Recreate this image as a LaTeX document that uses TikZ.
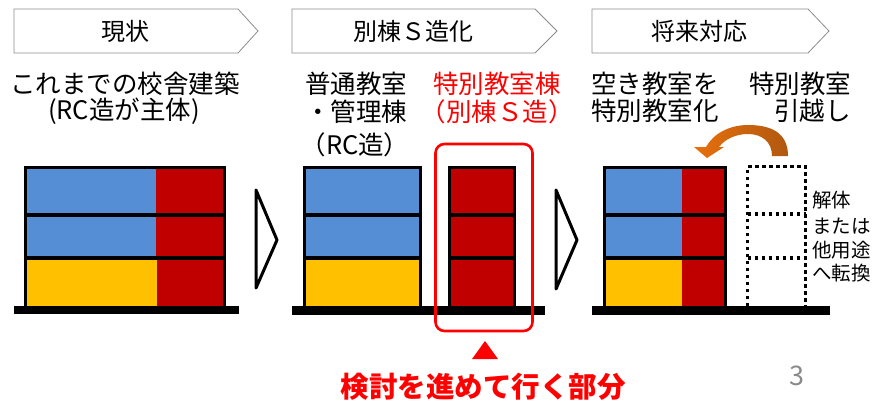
\documentclass[tikz,border=0pt]{standalone}
\usepackage{fontspec}
\setmainfont{Noto Sans CJK JP}
\definecolor{bl}{HTML}{558ED5}
\definecolor{rd}{HTML}{C00000}
\definecolor{yl}{HTML}{FFC000}
\definecolor{hot}{HTML}{FF0000}
\definecolor{hdr}{HTML}{8C8C8C}
\definecolor{orA}{HTML}{E8700C}
\definecolor{orB}{HTML}{B05810}
\definecolor{pg}{HTML}{8A8A8A}
\tikzset{
  frame/.style={line width=3.3pt, line join=miter},
  dotted frame/.style={line width=3.2pt, dash pattern=on 3.5pt off 3.5pt},
  header/.style={draw=hdr, line width=0.8pt, fill=white},
  chev/.style={line width=3pt, line join=round, line cap=round},
  hdrtext/.style={anchor=base, inner sep=0pt, font=\fontsize{24}{28}\selectfont},
  bodytext/.style={anchor=base, inner sep=0pt, font=\fontsize{25.5}{30}\selectfont},
  sidetext/.style={anchor=base west, inner sep=0pt, font=\fontsize{19.5}{24}\selectfont},
}
\begin{document}
\begin{tikzpicture}[x=1pt,y=-1pt]
\useasboundingbox (0,0) rectangle (885,405);
% headers
\draw[header] (14,9) -- (238,9) -- (258,31) -- (238,53) -- (14,53) -- cycle;
\draw[header] (292,9) -- (535,9) -- (557,31) -- (535,53) -- (292,53) -- cycle;
\draw[header] (592,9) -- (808,9) -- (829,31) -- (808,53) -- (592,53) -- cycle;
\node[hdrtext] (h1) at (125,40) {現状};
\node[hdrtext] (h2) at (413,40) {別棟Ｓ造化};
\node[hdrtext] (h3) at (699,40) {将来対応};
% texts
\node[bodytext] (t1a) at (125,93) {これまでの校舎建築};
\node[bodytext] (t1b) at (124,119) {(RC造が主体)};
\node[bodytext] (t2a) at (356,93) {普通教室};
\node[bodytext] (t2b) at (356,121) {・管理棟};
\node[bodytext] (t2c) at (355,154) {（RC造）};
\node[bodytext, text=hot] (t2d) at (497,93) {特別教室棟};
\node[bodytext, text=hot] (t2e) at (497,121) {（別棟Ｓ造）};
\node[bodytext] (t3a) at (655,93) {空き教室を};
\node[bodytext] (t3b) at (655,120) {特別教室化};
\node[bodytext] (t3c) at (800,93) {特別教室};
\node[bodytext, anchor=base east] (t3d) at (851,120) {引越し};
% building 1
\fill[bl] (25,167) rectangle (156,215);
\fill[rd] (156,167) rectangle (225,215);
\fill[bl] (25,215) rectangle (156,258);
\fill[rd] (156,215) rectangle (225,258);
\fill[yl] (25,258) rectangle (157,306);
\fill[rd] (157,258) rectangle (225,306);
\draw[frame] (25.7,306) -- (25.7,167.7) -- (224.3,167.7) -- (224.3,306);
\draw[frame] (25.7,215) -- (224.3,215);
\draw[frame] (25.7,258) -- (224.3,258);
\fill (14,306) rectangle (239,314);
\draw[chev] (256,190) -- (277,240) -- (256,288) -- cycle;
% building 2
\fill[bl] (304,167) rectangle (421,215);
\fill[bl] (304,215) rectangle (421,258);
\fill[yl] (304,258) rectangle (421,306);
\draw[frame] (304.7,306) -- (304.7,167.7) -- (420.3,167.7) -- (420.3,306);
\draw[frame] (304.7,215) -- (420.3,215);
\draw[frame] (304.7,258) -- (420.3,258);
\fill[rd] (449,167) rectangle (515,306);
\draw[frame] (449.7,306) -- (449.7,167.7) -- (514.3,167.7) -- (514.3,306);
\draw[frame] (449.7,215) -- (514.3,215);
\draw[frame] (449.7,258) -- (514.3,258);
\fill (292,306) rectangle (545,315);
\draw[hot, line width=2.6pt, rounded corners=9pt] (435.5,144) rectangle (532.5,331);
\fill[hot] (472,359) -- (498,359) -- (485,341) -- cycle;
\node[anchor=base, inner sep=0pt, text=hot, font=\fontsize{28.5}{32}\selectfont\bfseries] (focus) at (483,397) {検討を進めて行く部分};
\draw[chev] (556,190) -- (577,240) -- (556,289) -- cycle;
% building 3
\fill[bl] (604,167) rectangle (682,215);
\fill[rd] (682,167) rectangle (726,215);
\fill[bl] (604,215) rectangle (682,258);
\fill[rd] (682,215) rectangle (726,258);
\fill[yl] (604,258) rectangle (682,306);
\fill[rd] (682,258) rectangle (726,306);
\draw[frame] (604.7,306) -- (604.7,167.7) -- (725.3,167.7) -- (725.3,306);
\draw[frame] (604.7,215) -- (725.3,215);
\draw[frame] (604.7,258) -- (725.3,258);
\draw[dotted frame] (747.5,306) -- (747.5,166.5) -- (805.5,166.5) -- (805.5,306);
\draw[dotted frame] (747.5,214) -- (805.5,214);
\draw[dotted frame] (747.5,258) -- (805.5,258);
\fill (592,306) rectangle (830,315);
\node[sidetext] (s1) at (812,207) {解体};
\node[sidetext] (s2) at (812,233) {または};
\node[sidetext] (s3) at (812,257) {他用途};
\node[sidetext] (s4) at (812,280) {へ転換};
% orange curved arrow
\shade[left color=orA, right color=orB]
  (772,156) -- (788,156) .. controls (788,132) and (770,125) .. (748,125)
  .. controls (729,125) and (713,134) .. (706,147) -- (694,147) -- (707,158)
  -- (724,147) -- (719,147) .. controls (725,139) and (736,134) .. (748,134)
  .. controls (762,134) and (772,142) .. (772,156) -- cycle;
% page number
\node[anchor=base, inner sep=0pt, text=pg, font=\fontsize{27}{30}\selectfont] (pnum) at (797,385) {3};
\end{tikzpicture}
\end{document}
